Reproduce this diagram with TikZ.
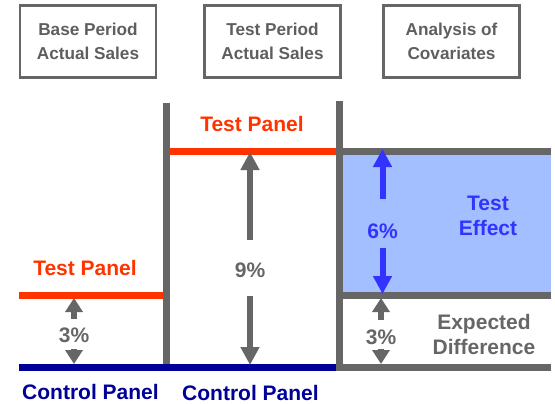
\documentclass[tikz,border=0pt]{standalone}
\usepackage{fontspec}
\setmainfont{Liberation Sans}
\usetikzlibrary{arrows.meta}
\definecolor{bargray}{HTML}{666666}
\definecolor{txtgray}{HTML}{5E5E5E}
\definecolor{tred}{HTML}{FF3300}
\definecolor{cnavy}{HTML}{000099}
\definecolor{eblue}{HTML}{3333FF}
\definecolor{efill}{HTML}{A4BFFF}
\tikzset{
  hbox/.style={draw=bargray, line width=2.5pt, minimum width=136pt, minimum height=72pt,
    align=center, font=\bfseries\fontsize{17.2}{24}\selectfont, text=txtgray, inner sep=0pt},
  bar/.style={line width=7pt, draw=bargray},
  redline/.style={line width=7pt, draw=tred},
  navyline/.style={line width=7pt, draw=cnavy},
  lbl/.style={font=\bfseries\fontsize{21}{25.5}\selectfont, align=center, inner sep=0pt},
  garrow/.style={line width=6pt, draw=bargray, -{Triangle[width=18pt,length=18pt]}},
  gsmall/.style={line width=6pt, draw=bargray, -{Triangle[width=17pt,length=14pt]}},
  barrow/.style={line width=6pt, draw=eblue, -{Triangle[width=18pt,length=18pt]}},
}
\begin{document}
\begin{tikzpicture}[x=1pt,y=-1pt]
\useasboundingbox (0,0) rectangle (555,404);
% header boxes
\node[hbox] (b1) at (88,41.5) {Base Period\\Actual Sales};
\node[hbox] (b2) at (272.5,41.5) {Test Period\\Actual Sales};
\node[hbox] (b3) at (451.5,41.5) {Analysis of\\Covariates};
% blue effect area
\fill[efill] (336,155) rectangle (551,293);
% right horizontal lines
\draw[bar] (339,151.5) -- (551,151.5);
\draw[bar] (339,295.5) -- (551,295.5);
\draw[bar] (339,367.5) -- (551,367.5);
% red test panel lines
\draw[redline] (19,295.5) -- (166,295.5);
\draw[redline] (166,151.5) -- (339,151.5);
% vertical bars
\draw[bar] (166,103) -- (166,364);
% navy control line
\draw[navyline] (19,367.5) -- (336,367.5);
\draw[bar] (339.5,101) -- (339.5,371);
% labels
\node[lbl, text=tred] (tp1) at (85,268) {Test Panel};
\node[lbl, text=tred] (tp2) at (252,124) {Test Panel};
\node[lbl, text=cnavy] (cp1) at (90.5,392) {Control Panel};
\node[lbl, text=cnavy] (cp2) at (250.5,393) {Control Panel};
\node[lbl, text=eblue] (te) at (488,216) {Test\\Effect};
\node[lbl, text=bargray] (ed) at (484,334.5) {Expected\\Difference};
\node[lbl, text=bargray] (p3a) at (74,335) {3\%};
\node[lbl, text=bargray] (p9) at (250,270) {9\%};
\node[lbl, text=eblue] (p6) at (382.5,231.5) {6\%};
\node[lbl, text=bargray] (p3b) at (381,337) {3\%};
% arrow coordinates
\coordinate (a3u0) at (74,319);  \coordinate (a3u1) at (74,298);
\coordinate (a3d0) at (74,349);  \coordinate (a3d1) at (74,364);
\coordinate (a9u0) at (250,240); \coordinate (a9u1) at (250,152);
\coordinate (a9d0) at (250,296); \coordinate (a9d1) at (250,365);
\coordinate (a6u0) at (382.5,199); \coordinate (a6u1) at (382.5,149);
\coordinate (a6d0) at (382.5,248); \coordinate (a6d1) at (382.5,294);
\coordinate (b3u0) at (381,320); \coordinate (b3u1) at (381,298);
\coordinate (b3d0) at (381,349); \coordinate (b3d1) at (381,364);
% arrows
\draw[gsmall] (a3u0) -- (a3u1);
\draw[gsmall] (a3d0) -- (a3d1);
\draw[garrow] (a9u0) -- (a9u1);
\draw[garrow] (a9d0) -- (a9d1);
\draw[barrow] (a6u0) -- (a6u1);
\draw[barrow] (a6d0) -- (a6d1);
\draw[gsmall] (b3u0) -- (b3u1);
\draw[gsmall] (b3d0) -- (b3d1);
\end{tikzpicture}
\end{document}
